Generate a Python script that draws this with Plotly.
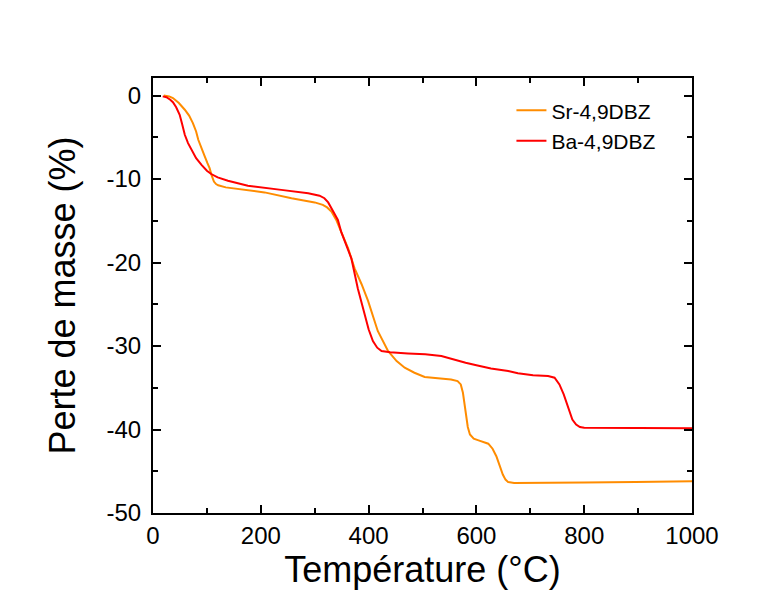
import plotly.graph_objects as go

# Sr-4,9DBZ (orange)
sr_temp = [20, 30, 37, 48, 59, 67, 74, 80, 84, 90, 96, 101, 105, 109, 113, 117, 121, 135, 158, 207,
           257, 300, 315, 323, 331, 340, 349, 362, 374, 387, 399, 417, 436, 452, 467, 485, 504, 530,
           553, 565, 571, 575, 578, 581, 584, 588, 595, 604, 615, 622, 630, 637, 643, 649, 654, 659,
           670, 700, 750, 800, 895, 1000]
sr_mass = [0.0, -0.1, -0.3, -0.9, -1.7, -2.4, -3.3, -4.3, -5.3, -6.4, -7.3, -8.1, -8.7, -9.6, -10.3,
           -10.6, -10.75, -11.0, -11.2, -11.6, -12.3, -12.8, -13.1, -13.4, -13.9, -14.9, -16.3, -18.3,
           -20.7, -22.6, -24.6, -28.2, -30.6, -31.8, -32.6, -33.2, -33.7, -33.9, -34.0, -34.2, -34.6,
           -35.6, -37.2, -38.6, -39.7, -40.6, -41.1, -41.3, -41.5, -41.7, -42.3, -43.2, -44.3, -45.4,
           -46.0, -46.3, -46.4, -46.4, -46.35, -46.35, -46.3, -46.2]

# Ba-4,9DBZ (red)
ba_temp = [18, 25, 32, 37, 43, 49.5, 54, 59, 65, 71, 80, 90, 100, 108, 120, 139, 176, 238, 288, 309,
           318, 325, 334, 343, 349, 358, 368, 380, 392, 400, 408, 416, 424, 440, 473, 505, 535, 552,
           566, 580, 600, 627, 659, 677, 705, 733, 745, 754, 762, 770, 778, 785, 792, 800, 850, 1000]
ba_mass = [-0.1, -0.2, -0.5, -0.8, -1.4, -2.3, -3.4, -4.7, -5.7, -6.5, -7.5, -8.3, -9.0, -9.4, -9.8,
           -10.2, -10.8, -11.3, -11.7, -12.0, -12.3, -12.8, -13.8, -14.9, -16.3, -17.8, -19.5, -23.1,
           -26.2, -28.0, -29.4, -30.2, -30.6, -30.75, -30.9, -31.0, -31.2, -31.5, -31.8, -32.0, -32.3,
           -32.7, -33.0, -33.25, -33.5, -33.6, -33.8, -34.6, -35.8, -37.4, -38.8, -39.4, -39.7, -39.8,
           -39.8, -39.85]

x_ticks = [0, 200, 400, 600, 800, 1000]
y_ticks = [0, -10, -20, -30, -40, -50]

FONT = "Arial, Liberation Sans, sans-serif"

fig = go.Figure()
fig.add_trace(go.Scatter(x=sr_temp, y=sr_mass, mode="lines", name="Sr-4,9DBZ",
                         line=dict(color="#FF8C00", width=2)))
fig.add_trace(go.Scatter(x=ba_temp, y=ba_mass, mode="lines", name="Ba-4,9DBZ",
                         line=dict(color="#FF0000", width=2)))

axis_common = dict(
    showline=True, linecolor="black", linewidth=2, mirror="allticks",
    ticks="inside", ticklen=8, tickwidth=1.5, tickcolor="black",
    showgrid=False, zeroline=False,
    tickfont=dict(family=FONT, size=24, color="black"),
)

fig.update_xaxes(
    range=[0, 1000], tickvals=x_ticks, ticktext=[str(v) for v in x_ticks],
    minor=dict(dtick=100, ticks="inside", ticklen=5, tickwidth=1.5, tickcolor="black", showgrid=False),
    title=dict(text="Température (°C)", font=dict(family=FONT, size=36, color="black"), standoff=8),
    **axis_common,
)
fig.update_yaxes(
    range=[-50, 2.1], tickvals=y_ticks, ticktext=[str(v) for v in y_ticks],
    ticklabelstandoff=5,
    minor=dict(dtick=5, tick0=0, ticks="inside", ticklen=5, tickwidth=1.5, tickcolor="black", showgrid=False),
    title=dict(text="Perte de masse (%)", font=dict(family=FONT, size=36, color="black"), standoff=20),
    **axis_common,
)

fig.update_layout(
    width=781, height=596,
    margin=dict(l=145, r=97, t=70, b=91),
    plot_bgcolor="white", paper_bgcolor="white",
    legend=dict(x=0.665, y=0.972, xanchor="left", yanchor="top",
                font=dict(family=FONT, size=21, color="black"),
                bgcolor="rgba(0,0,0,0)", tracegroupgap=0),
    font=dict(family=FONT, color="black"),
)

fig.write_html("out.html")
